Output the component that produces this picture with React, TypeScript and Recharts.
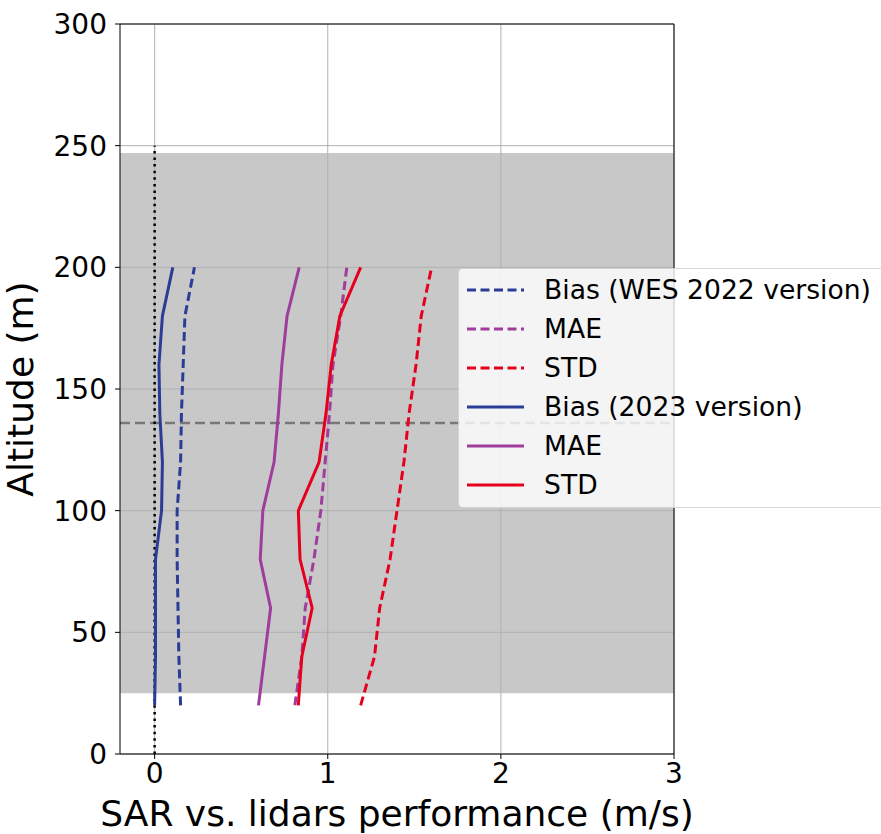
import {
  Label,
  ReferenceArea,
  ReferenceLine,
  Scatter,
  ScatterChart,
  XAxis,
  YAxis
} from "recharts";

// altitudes (m) where the profiles are sampled
const altitudes = [20, 40, 60, 80, 100, 120, 140, 160, 180, 200];

// WES 2022 version (dashed)
const biasWes2022 = [0.15, 0.14, 0.135, 0.13, 0.13, 0.15, 0.155, 0.165, 0.175, 0.23];
const maeWes2022 = [0.81, 0.85, 0.87, 0.92, 0.96, 0.985, 1.01, 1.03, 1.075, 1.11];
const stdWes2022 = [1.19, 1.27, 1.3, 1.36, 1.4, 1.44, 1.47, 1.51, 1.54, 1.6];

// 2023 version (solid)
const bias2023 = [0.0, 0.005, 0.005, 0.005, 0.04, 0.045, 0.03, 0.025, 0.045, 0.105];
const mae2023 = [0.6, 0.635, 0.67, 0.61, 0.625, 0.69, 0.715, 0.735, 0.765, 0.835];
const std2023 = [0.83, 0.85, 0.91, 0.84, 0.83, 0.95, 0.99, 1.02, 1.07, 1.19];

const xTicks = [0, 1, 2, 3];
const yTicks = [0, 50, 100, 150, 200, 250, 300];

const BLUE = "#2b3c96";
const PURPLE = "#a03c9b";
const RED = "#e6001e";
const FONT = "'DejaVu Sans', sans-serif";

interface SeriesDef {
  name: string;
  values: number[];
  color: string;
  dashed: boolean;
}

const series: SeriesDef[] = [
  { name: "Bias (WES 2022 version)", values: biasWes2022, color: BLUE, dashed: true },
  { name: "MAE", values: maeWes2022, color: PURPLE, dashed: true },
  { name: "STD", values: stdWes2022, color: RED, dashed: true },
  { name: "Bias (2023 version)", values: bias2023, color: BLUE, dashed: false },
  { name: "MAE", values: mae2023, color: PURPLE, dashed: false },
  { name: "STD", values: std2023, color: RED, dashed: false }
];

const profile = (values: number[]) => values.map((v, i) => ({ x: v, y: altitudes[i] }));

const noDot = () => <g />;

function YLabel() {
  return (
    <text
      x={33}
      y={389}
      transform="rotate(-90, 33, 389)"
      textAnchor="middle"
      fontSize={36}
      fill="#000"
      fontFamily={FONT}
    >
      Altitude (m)
    </text>
  );
}

function XLabel() {
  return (
    <text x={397} y={826} textAnchor="middle" fontSize={36} fill="#000" fontFamily={FONT}>
      SAR vs. lidars performance (m/s)
    </text>
  );
}

function LegendBox() {
  return (
    <div
      style={{
        position: "absolute",
        left: 458,
        top: 268,
        width: 460,
        height: 240,
        boxSizing: "border-box",
        paddingTop: 1,
        background: "rgba(255,255,255,0.8)",
        border: "1px solid rgba(204,204,204,0.8)",
        borderRadius: 5,
        fontFamily: FONT,
        fontSize: 26.6,
        color: "#000"
      }}
    >
      {series.map((s, i) => (
        <div key={i} style={{ display: "flex", alignItems: "center", height: 39 }}>
          <svg width={57} height={6} style={{ marginLeft: 8, marginRight: 20 }}>
            <line
              x1={0}
              y1={3}
              x2={57}
              y2={3}
              stroke={s.color}
              strokeWidth={3}
              strokeDasharray={s.dashed ? "9 4.5" : undefined}
            />
          </svg>
          <span style={{ whiteSpace: "nowrap" }}>{s.name}</span>
        </div>
      ))}
    </div>
  );
}

export default function App() {
  const gridStyle = { stroke: "#b0b0b0", strokeWidth: 1 };
  return (
    <div
      style={{
        position: "absolute",
        left: 0,
        top: 0,
        width: 881,
        height: 834,
        overflow: "hidden",
        background: "#fff",
        fontFamily: FONT
      }}
    >
      <ScatterChart width={881} height={834} margin={{ top: 24, right: 207, left: 0, bottom: 0 }}>
        <XAxis
          type="number"
          dataKey="x"
          domain={[-0.2, 3]}
          ticks={xTicks}
          allowDataOverflow
          height={80}
          tickSize={5}
          tickMargin={4}
          stroke="#000"
          tick={{ fontSize: 28, fill: "#000", fontFamily: FONT }}
        >
          <Label content={<XLabel />} />
        </XAxis>
        <YAxis
          type="number"
          dataKey="y"
          domain={[0, 300]}
          ticks={yTicks}
          allowDataOverflow
          width={120}
          tickSize={5}
          tickMargin={8}
          stroke="#000"
          tick={{ fontSize: 28, fill: "#000", fontFamily: FONT }}
        >
          <Label content={<YLabel />} />
        </YAxis>

        <ReferenceArea x1={-0.2} x2={3} y1={25} y2={247} fill="#c8c8c8" fillOpacity={1} stroke="none" />

        {xTicks.map((t) => (
          <ReferenceLine key={`gx${t}`} x={t} {...gridStyle} />
        ))}
        {yTicks.map((t) => (
          <ReferenceLine key={`gy${t}`} y={t} {...gridStyle} />
        ))}

        <ReferenceLine y={136} stroke="#777" strokeWidth={2.5} strokeDasharray="10 5" />
        <ReferenceLine
          segment={[
            { x: 0, y: 0 },
            { x: 0, y: 250 }
          ]}
          stroke="#000"
          strokeWidth={2.5}
          strokeDasharray="2.5 4.1"
        />
        <ReferenceLine y={300} stroke="#000" strokeWidth={1} />
        <ReferenceLine x={3} stroke="#000" strokeWidth={1} />

        {series.map((s, i) => (
          <Scatter
            key={i}
            name={s.name}
            data={profile(s.values)}
            fill={s.color}
            shape={noDot}
            line={{
              stroke: s.color,
              strokeWidth: 3,
              strokeDasharray: s.dashed ? "9 4.5" : undefined
            }}
            lineType="joint"
            isAnimationActive={false}
          />
        ))}
      </ScatterChart>
      <LegendBox />
    </div>
  );
}
